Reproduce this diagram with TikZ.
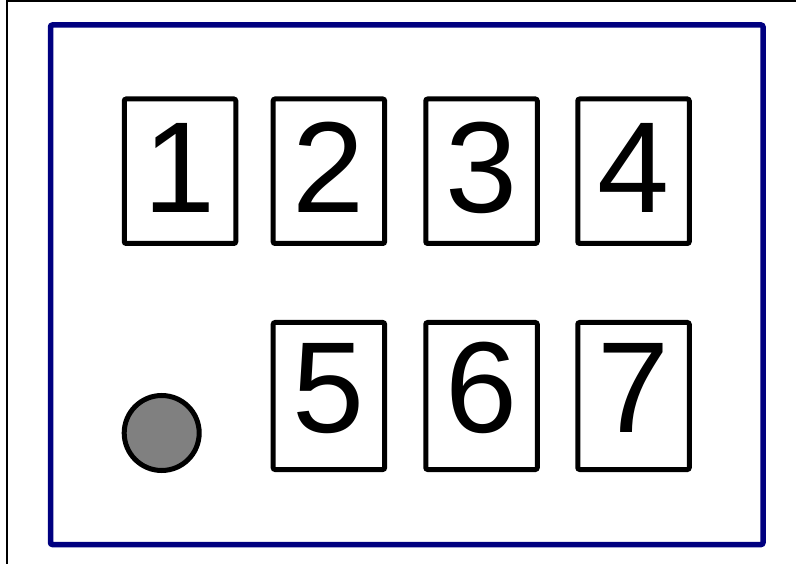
\documentclass[tikz,border=0pt]{standalone}
\usepackage{fontspec}
\setmainfont{Liberation Sans}
\definecolor{framenavy}{HTML}{000080}
\definecolor{dotgray}{HTML}{808080}
\begin{document}
\begin{tikzpicture}[x=1pt,y=-1pt,
  keybox/.style={draw=black,line width=5pt,rounded corners=2pt,fill=white,inner sep=0pt,minimum width=111.5pt},
  toprow/.style={keybox,minimum height=144.5pt},
  botrow/.style={keybox,minimum height=147pt},
  digit/.style={anchor=base,inner sep=0pt,font=\fontsize{129.5}{130}\selectfont}]
\useasboundingbox (0,0) rectangle (796,564);
\fill[white] (0,0) rectangle (796,564);
\coordinate (cbl) at (7,564);
\coordinate (ctl) at (7,1);
\coordinate (ctr) at (796,1);
\draw[line width=2pt] (cbl) -- (ctl) -- (ctr);
\node[draw=framenavy,line width=5.5pt,rounded corners=2pt,inner sep=0pt,
  minimum width=712.5pt,minimum height=519.5pt] (frame) at (406.75,284.75) {};
\node[toprow] (b1) at (180,171.25) {};
\node[toprow] (b2) at (328.9,171.25) {};
\node[toprow] (b3) at (481.5,171.25) {};
\node[toprow] (b4) at (633.5,171.25) {};
\node[botrow] (b5) at (328.9,396) {};
\node[botrow] (b6) at (481.5,396) {};
\node[botrow] (b7) at (633.5,396) {};
\node[digit] (d1) at (180,212.7) {1};
\node[digit] (d2) at (328.9,212.7) {2};
\node[digit] (d3) at (481.5,212.7) {3};
\node[digit] (d4) at (633.5,212.7) {4};
\node[digit] (d5) at (328.9,432.5) {5};
\node[digit] (d6) at (481.5,432.5) {6};
\node[digit] (d7) at (633.5,432.5) {7};
\node[circle,draw=black,line width=5pt,fill=dotgray,inner sep=0pt,minimum size=75pt] (dot) at (161.7,433) {};
\end{tikzpicture}
\end{document}
